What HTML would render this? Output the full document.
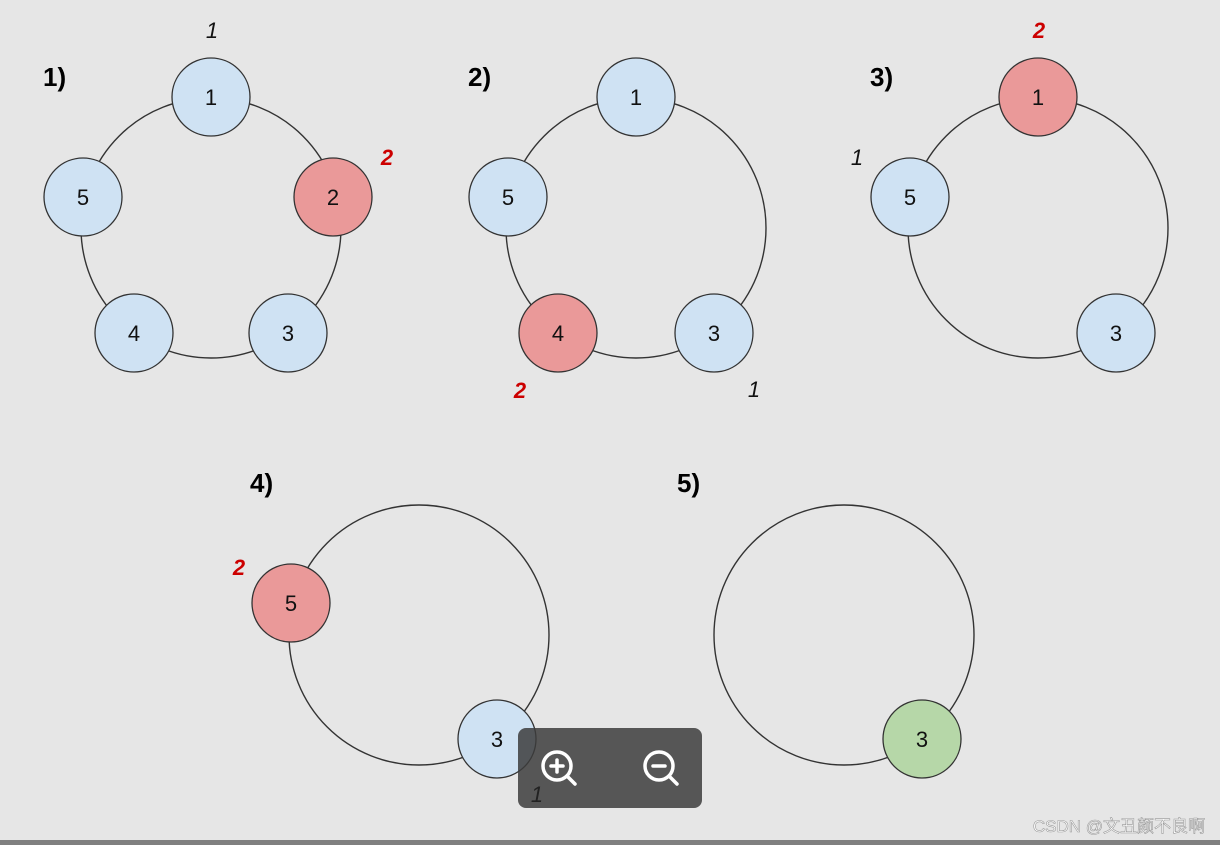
<!DOCTYPE html>
<html><head><meta charset="utf-8"><style>
html,body{margin:0;padding:0;background:#e6e6e6;}
svg{display:block}
</style></head><body>
<svg width="1220" height="845" viewBox="0 0 1220 845" xmlns="http://www.w3.org/2000/svg" font-family="Liberation Sans, Arial, sans-serif">
<rect width="1220" height="845" fill="#e6e6e6"/>
<rect x="0" y="840" width="1220" height="5" fill="#808080"/>
<g fill="none" stroke="#333" stroke-width="1.4">
<circle cx="211" cy="228" r="130"/>
<circle cx="636" cy="228" r="130"/>
<circle cx="1038" cy="228" r="130"/>
<circle cx="419" cy="635" r="130"/>
<circle cx="844" cy="635" r="130"/>
</g>
<g stroke="#333" stroke-width="1.3" font-size="22" text-anchor="middle">
<g fill="#cfe2f3"><circle cx="211" cy="97" r="39"/><circle cx="83" cy="197" r="39"/><circle cx="134" cy="333" r="39"/><circle cx="288" cy="333" r="39"/>
<circle cx="636" cy="97" r="39"/><circle cx="508" cy="197" r="39"/><circle cx="714" cy="333" r="39"/>
<circle cx="910" cy="197" r="39"/><circle cx="1116" cy="333" r="39"/>
<circle cx="497" cy="739" r="39"/></g>
<g fill="#ea9999"><circle cx="333" cy="197" r="39"/><circle cx="558" cy="333" r="39"/><circle cx="1038" cy="97" r="39"/><circle cx="291" cy="603" r="39"/></g>
<circle cx="922" cy="739" r="39" fill="#b6d7a8"/>
</g>
<g font-size="22" text-anchor="middle" fill="#111">
<text x="211" y="105">1</text><text x="83" y="205">5</text><text x="134" y="341">4</text><text x="288" y="341">3</text><text x="333" y="205">2</text>
<text x="636" y="105">1</text><text x="508" y="205">5</text><text x="714" y="341">3</text><text x="558" y="341">4</text>
<text x="1038" y="105">1</text><text x="910" y="205">5</text><text x="1116" y="341">3</text>
<text x="291" y="611">5</text><text x="497" y="747">3</text><text x="922" y="747">3</text>
</g>
<g font-size="26" font-weight="bold" fill="#000">
<text x="43" y="86">1)</text><text x="468" y="86">2)</text><text x="870" y="86">3)</text>
<text x="250" y="492">4)</text><text x="677" y="492">5)</text>
</g>
<g font-size="22" font-style="italic" text-anchor="middle">
<text x="212" y="38" fill="#111">1</text>
<text x="387" y="165" fill="#cc0000" font-weight="bold">2</text>
<text x="520" y="398" fill="#cc0000" font-weight="bold">2</text>
<text x="754" y="397" fill="#111">1</text>
<text x="1039" y="38" fill="#cc0000" font-weight="bold">2</text>
<text x="857" y="165" fill="#111">1</text>
<text x="239" y="575" fill="#cc0000" font-weight="bold">2</text>
</g>
<rect x="518" y="728" width="184" height="80" rx="8" fill="#3c3c3c" fill-opacity="0.85"/>
<text x="537" y="802" font-size="22" font-style="italic" fill="#222" text-anchor="middle">1</text>
<g stroke="#fff" stroke-width="3.5" fill="none" stroke-linecap="round">
<circle cx="557" cy="766" r="14"/><line x1="567" y1="776" x2="575" y2="784"/><line x1="551" y1="766" x2="563" y2="766"/><line x1="557" y1="760" x2="557" y2="772"/>
<circle cx="659" cy="766" r="14"/><line x1="669" y1="776" x2="677" y2="784"/><line x1="653" y1="766" x2="665" y2="766"/>
</g>
<text x="1205" y="832" font-size="17" fill="#fff" stroke="#999" stroke-width="0.6" text-anchor="end" font-family="Liberation Sans, Noto Sans CJK SC, sans-serif">CSDN @文丑颜不良啊</text>
</svg>
</body></html>
